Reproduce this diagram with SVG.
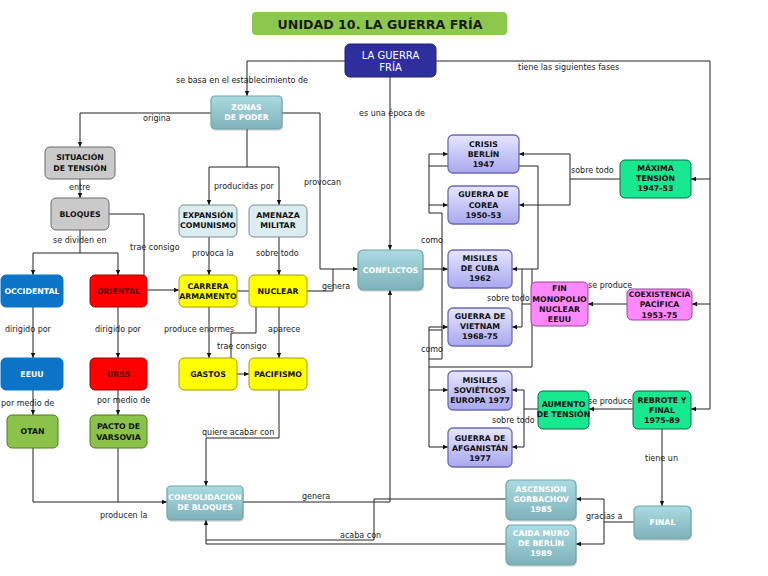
<svg xmlns="http://www.w3.org/2000/svg" width="768" height="576" viewBox="0 0 768 576">
<defs>
<marker id="ar" markerWidth="6" markerHeight="6" refX="5" refY="3" orient="auto" markerUnits="userSpaceOnUse"><path d="M0,0.8 L5,3 L0,5.2 z" fill="#111"/></marker>
<linearGradient id="gTeal" x1="0" y1="0" x2="0" y2="1"><stop offset="0" stop-color="#acdbe2"/><stop offset="1" stop-color="#7eb1b8"/></linearGradient>
<linearGradient id="gLav" x1="0" y1="0" x2="0" y2="1"><stop offset="0" stop-color="#e6e6ff"/><stop offset="1" stop-color="#a8a8ee"/></linearGradient>
<style>
.t{font-family:"DejaVu Sans",Verdana,sans-serif;font-size:7.8px;text-anchor:middle;font-weight:bold;fill:#111}
.w{fill:#fff}
.dr{fill:#5a0000}
.l{font-family:"DejaVu Sans",Verdana,sans-serif;font-size:8px;fill:#222}
.c path{fill:none;stroke:#222;stroke-width:1}
.a{marker-end:url(#ar)}
.teal{fill:url(#gTeal);stroke:#6fa4ab;stroke-width:1.2}
.lav{fill:url(#gLav);stroke:#6a6ab8;stroke-width:1.3}
.gray{fill:#cacaca;stroke:#6a6a6a;stroke-width:1}
.lb{fill:#dbedf0;stroke:#7a8a8c;stroke-width:1}
.blue{fill:#0b74c8;stroke:#0b74c8;stroke-width:1}
.red{fill:#ff0000;stroke:#a00000;stroke-width:1}
.yel{fill:#ffff00;stroke:#a89a00;stroke-width:1}
.grn{fill:#8bc34a;stroke:#4d7a25;stroke-width:1}
.mint{fill:#18e890;stroke:#0c6a40;stroke-width:1}
.pink{fill:#ff88ff;stroke:#9a409a;stroke-width:1}
.sh{fill:#000;opacity:0.12}
</style>
</defs>
<rect width="768" height="576" fill="#fff"/>

<g id="title"><rect x="252" y="12" width="255" height="23" rx="4" fill="#8cc84b"/><text x="380" y="29" style="font-family:'DejaVu Sans',sans-serif;font-size:12.6px;font-weight:bold;text-anchor:middle;fill:#1a1a1a">UNIDAD 10. LA GUERRA FRÍA</text></g>

<g class="c" id="connectors">
<path class="a" d="M345,61 H247 V96"/>
<path d="M436,61 H710 V409"/>
<path class="a" d="M710,179 H691"/>
<path class="a" d="M710,304 H692"/>
<path class="a" d="M710,409 H691"/>
<path class="a" d="M390,77 V250"/>
<path class="a" d="M211,113 H80 V147"/>
<path class="a" d="M282,113 H320 V269 H358"/>
<path d="M247,129 V167 M209,167 H279"/>
<path class="a" d="M209,167 V205"/>
<path class="a" d="M279,167 V205"/>
<path class="a" d="M80,179 V198"/>
<path d="M80,230 V253 M33,253 H118"/>
<path class="a" d="M33,253 V275"/>
<path class="a" d="M118,253 V275"/>
<path class="a" d="M109,214 H144 V290 H179"/>
<path class="a" d="M33,307 V358"/>
<path class="a" d="M118,307 V358"/>
<path class="a" d="M33,390 V415"/>
<path class="a" d="M118,390 V415"/>
<path class="a" d="M33,448 V502 H167"/>
<path d="M118,448 V502"/>
<path class="a" d="M209,237 V275"/>
<path class="a" d="M279,237 V275"/>
<path class="a" d="M209,307 V358"/>
<path class="a" d="M279,307 V358"/>
<path class="a" d="M237,291 H256 V333 H231 V374 H249"/>
<path d="M307,291 H333 V269"/>
<path class="a" d="M279,390 V438 H206 V486"/>
<path class="a" d="M243,502 H390 V290"/>
<path class="a" d="M506,499 H374 V540 H206 V520"/>
<path d="M506,544 H206 V540"/>
<path class="a" d="M423,269 H448"/>
<path d="M442,213 V359 M429,213 H442 M429,154 V213"/>
<path class="a" d="M429,154 H448"/>
<path class="a" d="M429,205 H448"/>
<path d="M429,327 V447 M429,330 H442 M429,359 H442 M429,367 H532 V269"/>
<path class="a" d="M429,327 H448"/>
<path class="a" d="M429,390 H448"/>
<path class="a" d="M429,447 H448"/>
<path class="a" d="M429,166 H538 V269 H512"/>
<path d="M531,304 H522 M522,269 V327"/>
<path class="a" d="M522,327 H512"/>
<path d="M620,179 H570 M570,154 V205"/>
<path class="a" d="M570,154 H519"/>
<path class="a" d="M570,205 H519"/>
<path class="a" d="M627,304 H588"/>
<path class="a" d="M633,409 H589"/>
<path d="M538,409 H524 M524,390 V447"/>
<path class="a" d="M524,390 H512"/>
<path class="a" d="M524,447 H512"/>
<path class="a" d="M662,429 V506"/>
<path d="M634,522 H604 M604,499 V544"/>
<path class="a" d="M604,499 H576"/>
<path class="a" d="M604,544 H576"/>
</g>

<g id="labels">
<text class="l" x="176" y="83">se basa en el establecimiento de</text>
<text class="l" x="143" y="121">origina</text>
<text class="l" x="359" y="116">es una época de</text>
<text class="l" x="518" y="70">tiene las siguientes fases</text>
<text class="l" x="69" y="190">entre</text>
<text class="l" x="214" y="189">producidas por</text>
<text class="l" x="304" y="185">provocan</text>
<text class="l" x="53" y="243">se dividen en</text>
<text class="l" x="130" y="250">trae consigo</text>
<text class="l" x="192" y="256">provoca la</text>
<text class="l" x="256" y="256">sobre todo</text>
<text class="l" x="322" y="289">genera</text>
<text class="l" x="5" y="332">dirigido por</text>
<text class="l" x="95" y="332">dirigido por</text>
<text class="l" x="164" y="332">produce enormes</text>
<text class="l" x="268" y="332">aparece</text>
<text class="l" x="217" y="349">trae consigo</text>
<text class="l" x="1" y="406">por medio de</text>
<text class="l" x="97" y="403">por medio de</text>
<text class="l" x="202" y="435">quiere acabar con</text>
<text class="l" x="100" y="518">producen la</text>
<text class="l" x="302" y="499">genera</text>
<text class="l" x="340" y="538">acaba con</text>
<text class="l" x="421" y="243">como</text>
<text class="l" x="421" y="352">como</text>
<text class="l" x="571" y="173">sobre todo</text>
<text class="l" x="487" y="301">sobre todo</text>
<text class="l" x="588" y="288">se produce</text>
<text class="l" x="492" y="423">sobre todo</text>
<text class="l" x="588" y="404">se produce</text>
<text class="l" x="645" y="461">tiene un</text>
<text class="l" x="586" y="519">gracias a</text>
</g>

<g id="n-guerra"><rect x="345" y="44" width="91" height="33" rx="5" fill="#2e2e9c" stroke="#20207a"/><text class="t w" x="390.5" y="58.5" style="font-size:10px;font-weight:normal">LA GUERRA</text><text class="t w" x="390.5" y="70.5" style="font-size:10px;font-weight:normal">FRÍA</text></g>
<g id="n-zonas"><rect class="sh" x="212" y="98" width="71" height="33" rx="4"/><rect class="teal" x="211" y="96" width="71" height="33" rx="4"/><text class="t w" x="246.5" y="110">ZONAS</text><text class="t w" x="246.5" y="120">DE PODER</text></g>
<g id="n-situacion"><rect class="gray" x="45" y="147" width="70" height="32" rx="5"/><text class="t" x="80" y="160">SITUACIÓN</text><text class="t" x="80" y="171">DE TENSIÓN</text></g>
<g id="n-bloques"><rect class="gray" x="51" y="198" width="58" height="32" rx="5"/><text class="t" x="80" y="217">BLOQUES</text></g>
<g id="n-expansion"><rect class="lb" x="179" y="205" width="58" height="32" rx="5"/><text class="t" x="208" y="218">EXPANSIÓN</text><text class="t" x="208" y="228">COMUNISMO</text></g>
<g id="n-amenaza"><rect class="lb" x="249" y="205" width="58" height="32" rx="5"/><text class="t" x="278" y="218">AMENAZA</text><text class="t" x="278" y="228">MILITAR</text></g>
<g id="n-occidental"><rect class="blue" x="1" y="275" width="62" height="32" rx="5"/><text class="t w" x="32" y="294">OCCIDENTAL</text></g>
<g id="n-oriental"><rect class="red" x="90" y="275" width="57" height="32" rx="5"/><text class="t dr" x="118.5" y="294">ORIENTAL</text></g>
<g id="n-carrera"><rect class="yel" x="179" y="275" width="58" height="32" rx="5"/><text class="t" x="208" y="289">CARRERA</text><text class="t" x="208" y="299">ARMAMENTO</text></g>
<g id="n-nuclear"><rect class="yel" x="249" y="275" width="58" height="32" rx="5"/><text class="t" x="278" y="294">NUCLEAR</text></g>
<g id="n-eeuu"><rect class="blue" x="1" y="358" width="62" height="32" rx="5"/><text class="t w" x="32" y="377">EEUU</text></g>
<g id="n-urss"><rect class="red" x="90" y="358" width="57" height="32" rx="5"/><text class="t dr" x="118.5" y="377">URSS</text></g>
<g id="n-gastos"><rect class="yel" x="179" y="358" width="58" height="32" rx="5"/><text class="t" x="208" y="377">GASTOS</text></g>
<g id="n-pacifismo"><rect class="yel" x="249" y="358" width="58" height="32" rx="5"/><text class="t" x="278" y="377">PACIFISMO</text></g>
<g id="n-otan"><rect class="grn" x="7" y="415" width="51" height="33" rx="5"/><text class="t" x="32.5" y="434">OTAN</text></g>
<g id="n-pacto"><rect class="grn" x="90" y="415" width="57" height="33" rx="5"/><text class="t" x="118.5" y="429">PACTO DE</text><text class="t" x="118.5" y="440">VARSOVIA</text></g>
<g id="n-consolidacion"><rect class="sh" x="168" y="488" width="76" height="34" rx="4"/><rect class="teal" x="167" y="486" width="76" height="34" rx="4"/><text class="t w" x="205" y="500">CONSOLIDACIÓN</text><text class="t w" x="205" y="510">DE BLOQUES</text></g>
<g id="n-conflictos"><rect class="sh" x="359" y="252" width="65" height="40" rx="5"/><rect class="teal" x="358" y="250" width="65" height="40" rx="5"/><text class="t w" x="390.5" y="273">CONFLICTOS</text></g>
<g id="n-crisis"><rect class="lav" x="448" y="135" width="71" height="38" rx="5"/><text class="t" x="483.5" y="147">CRISIS</text><text class="t" x="483.5" y="157">BERLÍN</text><text class="t" x="483.5" y="167">1947</text></g>
<g id="n-corea"><rect class="lav" x="448" y="186" width="71" height="38" rx="5"/><text class="t" x="483.5" y="197">GUERRA DE</text><text class="t" x="483.5" y="208">COREA</text><text class="t" x="483.5" y="218">1950-53</text></g>
<g id="n-cuba"><rect class="lav" x="448" y="250" width="64" height="38" rx="5"/><text class="t" x="480" y="261">MISILES</text><text class="t" x="480" y="271">DE CUBA</text><text class="t" x="480" y="281">1962</text></g>
<g id="n-vietnam"><rect class="lav" x="448" y="308" width="64" height="38" rx="5"/><text class="t" x="480" y="319">GUERRA DE</text><text class="t" x="480" y="329">VIETNAM</text><text class="t" x="480" y="339">1968-75</text></g>
<g id="n-sovieticos"><rect class="lav" x="448" y="371" width="64" height="39" rx="5"/><text class="t" x="480" y="383">MISILES</text><text class="t" x="480" y="393">SOVIÉTICOS</text><text class="t" x="480" y="403">EUROPA 1977</text></g>
<g id="n-afganistan"><rect class="lav" x="448" y="428" width="64" height="39" rx="5"/><text class="t" x="480" y="441">GUERRA DE</text><text class="t" x="480" y="451">AFGANISTÁN</text><text class="t" x="480" y="461">1977</text></g>
<g id="n-maxima"><rect class="mint" x="620" y="160" width="71" height="38" rx="5"/><text class="t" x="655.5" y="171">MÁXIMA</text><text class="t" x="655.5" y="181">TENSIÓN</text><text class="t" x="655.5" y="191">1947-53</text></g>
<g id="n-fin"><rect class="pink" x="531" y="282" width="57" height="44" rx="5"/><text class="t" x="559.5" y="291">FIN</text><text class="t" x="559.5" y="302">MONOPOLIO</text><text class="t" x="559.5" y="312">NUCLEAR</text><text class="t" x="559.5" y="322">EEUU</text></g>
<g id="n-coexistencia"><rect class="pink" x="627" y="289" width="65" height="31" rx="5"/><text class="t" x="659.5" y="297" style="font-size:7.5px">COEXISTENCIA</text><text class="t" x="659.5" y="307">PACÍFICA</text><text class="t" x="659.5" y="318">1953-75</text></g>
<g id="n-aumento"><rect class="mint" x="538" y="391" width="51" height="38" rx="5"/><text class="t" x="563.5" y="407">AUMENTO</text><text class="t" x="563.5" y="417">DE TENSIÓN</text></g>
<g id="n-rebrote"><rect class="mint" x="633" y="391" width="58" height="38" rx="5"/><text class="t" x="662" y="403">REBROTE Y</text><text class="t" x="662" y="413">FINAL</text><text class="t" x="662" y="423">1975-89</text></g>
<g id="n-final"><rect class="sh" x="635" y="508" width="57" height="33" rx="5"/><rect class="teal" x="634" y="506" width="57" height="33" rx="5"/><text class="t w" x="662.5" y="525">FINAL</text></g>
<g id="n-ascension"><rect class="sh" x="507" y="482" width="70" height="40" rx="5"/><rect class="teal" x="506" y="480" width="70" height="40" rx="5"/><text class="t w" x="541" y="492">ASCENSIÓN</text><text class="t w" x="541" y="502">GORBACHOV</text><text class="t w" x="541" y="512">1985</text></g>
<g id="n-caida"><rect class="sh" x="507" y="527" width="70" height="40" rx="5"/><rect class="teal" x="506" y="525" width="70" height="40" rx="5"/><text class="t w" x="541" y="536">CAIDA MURO</text><text class="t w" x="541" y="546">DE BERLÍN</text><text class="t w" x="541" y="556">1989</text></g>
</svg>
